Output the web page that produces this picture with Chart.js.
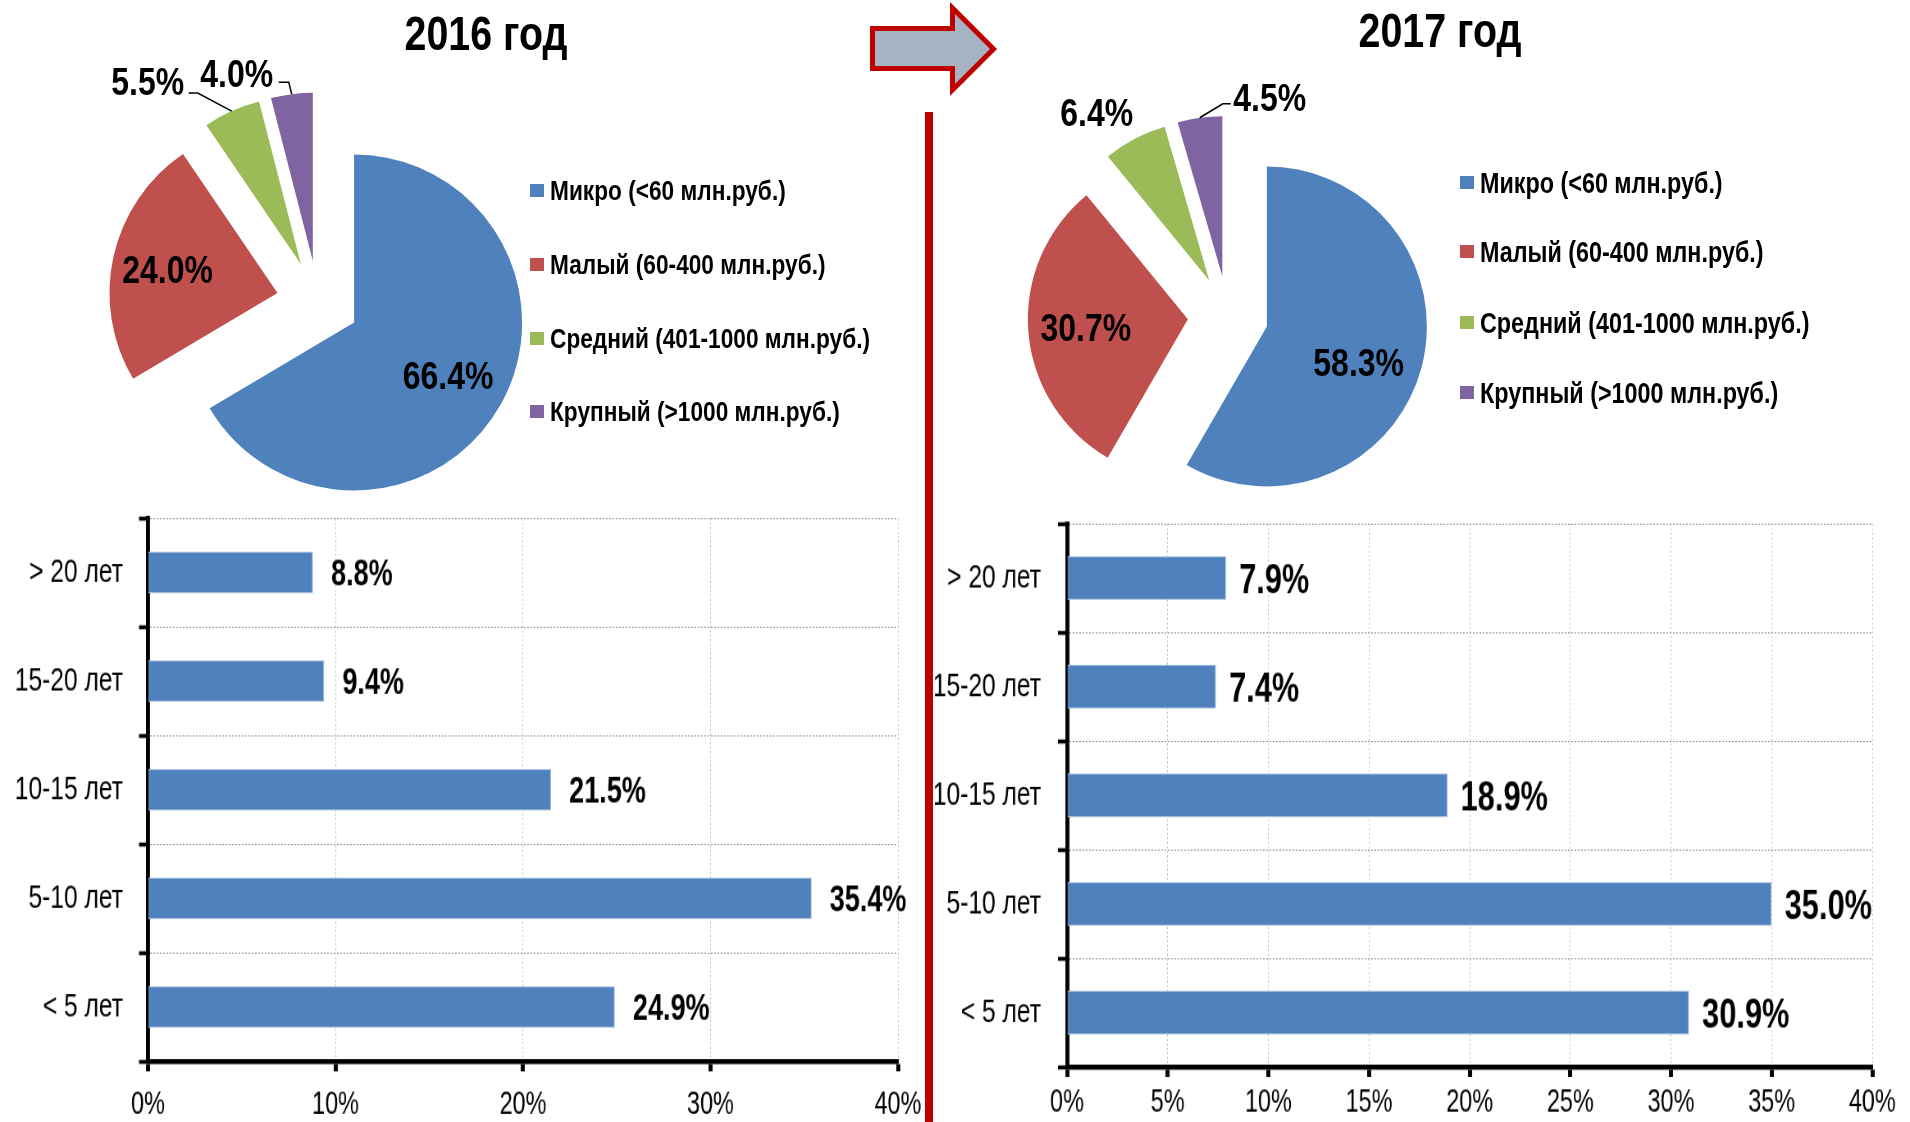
<!DOCTYPE html>
<html><head><meta charset="utf-8">
<script src="https://cdn.jsdelivr.net/npm/chart.js@4.4.1/dist/chart.umd.min.js"></script>
<style>
html,body{margin:0;padding:0;background:#fff;}
body{width:1910px;height:1122px;position:relative;overflow:hidden;font-family:"Liberation Sans",Arial,sans-serif;color:#000;}
canvas{position:absolute;}
canvas.bar{transform:scale(0.82,1.12);transform-origin:0 0;}
.title{position:absolute;font-weight:bold;font-size:48px;line-height:48px;text-align:center;width:400px;white-space:nowrap;transform:scaleX(0.82);transform-origin:50% 0;}
.leg{position:absolute;font-weight:bold;line-height:30px;height:30px;white-space:nowrap;z-index:5;}
.leg span{display:inline-block;transform-origin:0 0;}
.leg i{position:absolute;left:-20px;top:8px;width:14px;height:13px;}
#vline{position:absolute;left:925px;top:112px;width:8px;height:1010px;background:#C00000;}
#arrow{position:absolute;left:860px;top:0;}
</style></head>
<body>
<svg id="arrow" width="150" height="100"><polygon points="12.5,28.5 92.5,28.5 92.5,8 133.5,49 92.5,90 92.5,68.5 12.5,68.5" fill="#A5B3C2" stroke="#C00000" stroke-width="5" stroke-linejoin="miter"/></svg>
<div id="vline"></div>
<canvas id="pie2016" width="600" height="600" style="left:18px;top:2px"></canvas>
<canvas id="pie2017" width="600" height="600" style="left:928px;top:16px"></canvas>
<canvas id="bar2016" class="bar" width="1134" height="573" style="left:0px;top:480px"></canvas>
<canvas id="bar2017" class="bar" width="1189" height="573" style="left:935px;top:480px"></canvas>
<script>
// ---- data ----
const years = ['2016 год', '2017 год'];
const sizeLabels = ['Микро (<60 млн.руб.)', 'Малый (60-400 млн.руб.)', 'Средний (401-1000 млн.руб.)', 'Крупный (>1000 млн.руб.)'];
const share2016 = [66.4, 24.0, 5.5, 4.0];
const share2017 = [58.3, 30.7, 6.4, 4.5];
const ageLabels = ['> 20 лет', '15-20 лет', '10-15 лет', '5-10 лет', '< 5 лет'];
const age2016 = [8.8, 9.4, 21.5, 35.4, 24.9];
const age2017 = [7.9, 7.4, 18.9, 35.0, 30.9];
const axisMax = 40;
const tickStep2016 = 10;
const tickStep2017 = 5;

// ---- styles ----
const FONT = '"Liberation Sans", Arial, sans-serif';
const NARROW = 0.82;
const sliceColors = ['#4F81BD', '#C0504D', '#9BBB59', '#8064A2'];
const barColor = '#4F81BD';
Chart.defaults.font.family = FONT;
Chart.defaults.color = '#000';

// titles
[[years[0], 286, 10], [years[1], 1240, 7]].forEach(([t, x, y]) => {
  const d = document.createElement('div');
  d.className = 'title'; d.textContent = t;
  d.style.left = x + 'px'; d.style.top = y + 'px';
  document.body.appendChild(d);
});
// legends (HTML)
function legend(x, ys, size, sx) {
  sizeLabels.forEach((s, i) => {
    const d = document.createElement('div');
    d.className = 'leg';
    d.style.left = x + 'px'; d.style.top = (ys[i] - 15) + 'px';
    d.style.fontSize = size + 'px';
    const sq = document.createElement('i');
    sq.style.background = sliceColors[i];
    const sp = document.createElement('span');
    sp.style.transform = 'scaleX(' + sx + ')';
    sp.textContent = s;
    d.appendChild(sq); d.appendChild(sp);
    document.body.appendChild(d);
  });
}
legend(550, [191, 265, 339, 412], 28, 0.81);
legend(1480, [183, 252, 323, 393], 29, 0.805);

// compensate chart.js explode (offset) so slices keep their radius and angles
const explodeFix = {
  id: 'explodeFix',
  afterDatasetUpdate(chart, args) {
    const o = chart.options.plugins.explodeFix;
    const R = o.radius, t = o.offset / 4;
    args.meta.data.forEach(arc => {
      const fix = 1 - Math.sin(Math.min(Math.PI, arc.circumference));
      const ro = t * fix;
      arc.outerRadius = R - ro;
      const a = (ro / Math.PI) / R / 2;
      arc.startAngle -= a; arc.endAngle += a;
    });
  }
};
function narrowText(ctx, txt, x, y, size) {
  ctx.save();
  ctx.translate(x, y);
  ctx.scale(NARROW, 1);
  ctx.fillText(txt, 0, size * 0.358);
  ctx.restore();
}
const pieLabels = {
  id: 'pieLabels',
  afterDatasetsDraw(chart) {
    const o = chart.options.plugins.pieLabels;
    const R = o.radius, t = o.offset / 4;
    const ctx = chart.ctx;
    const meta = chart.getDatasetMeta(0);
    const vals = chart.data.datasets[0].data;
    const size = 39;
    ctx.save();
    ctx.font = 'bold ' + size + 'px ' + FONT;
    ctx.fillStyle = '#000';
    ctx.textAlign = 'center';
    ctx.textBaseline = 'alphabetic';
    meta.data.forEach((arc, i) => {
      const mid = (arc.startAngle + arc.endAngle) / 2;
      const c = Math.cos(mid), s = Math.sin(mid);
      const vx = arc.x + c * t, vy = arc.y + s * t;
      const p = o.place[i];
      const txt = vals[i].toFixed(1) + '%';
      if (p.k) {
        narrowText(ctx, txt, vx + c * R * p.k + (p.dx || 0), vy + s * R * p.k + (p.dy || 0), size);
      } else {
        const ax = vx + c * R, ay = vy + s * R;
        if (p.leader) {
          ctx.strokeStyle = '#000'; ctx.lineWidth = 1.5;
          ctx.beginPath(); ctx.moveTo(ax, ay);
          p.leader.forEach(q => ctx.lineTo(ax + q[0], ay + q[1]));
          ctx.stroke();
        }
        narrowText(ctx, txt, ax + p.d[0], ay + p.d[1], size);
      }
    });
    ctx.restore();
  }
};
function pie(id, values, R, offset, place) {
  new Chart(document.getElementById(id), {
    type: 'pie',
    data: { labels: sizeLabels, datasets: [{ data: values, backgroundColor: sliceColors, borderWidth: 0, offset: offset, hoverOffset: 0 }] },
    options: {
      responsive: false, animation: false, events: [], radius: R,
      layout: { padding: 0 },
      plugins: { legend: { display: false }, tooltip: { enabled: false },
        explodeFix: { radius: R, offset: offset },
        pieLabels: { radius: R, offset: offset, place: place } }
    },
    plugins: [explodeFix, pieLabels]
  });
}
pie('pie2016', share2016, 168, 166, [
  { k: 0.63, dx: 2 }, { k: 0.67 },
  { d: [-84, -30], leader: [[-34, -18], [-43, -18]] },
  { d: [-55, -21], leader: [[-3, -12], [-13, -12]] }
]);
pie('pie2017', share2017, 160, 161, [
  { k: 0.62, dx: -4, dy: 10 }, { k: 0.64 },
  { d: [-38, -27] },
  { d: [70, -21], leader: [[23, -14], [31, -14]] }
]);

const barLabels = {
  id: 'barLabels',
  afterDatasetsDraw(chart) {
    const o = chart.options.plugins.barLabels;
    const ctx = chart.ctx;
    const meta = chart.getDatasetMeta(0);
    const vals = chart.data.datasets[0].data;
    ctx.save();
    ctx.font = 'bold ' + o.size + 'px ' + FONT;
    ctx.fillStyle = '#000';
    ctx.textAlign = 'left';
    ctx.textBaseline = 'alphabetic';
    meta.data.forEach((bar, i) => {
      ctx.fillText(vals[i].toFixed(1) + '%', bar.x + o.gap, bar.y + o.size * 0.358);
    });
    ctx.restore();
  }
};
// geometry values are in canvas units (canvas is scaled by CSS 0.82 x 1.12)
function bars(id, values, step, g) {
  new Chart(document.getElementById(id), {
    type: 'bar',
    data: { labels: ageLabels, datasets: [{ data: values, backgroundColor: barColor, borderColor: '#A7C0DE', borderWidth: 1, barPercentage: g.barPct, categoryPercentage: 1 }] },
    options: {
      indexAxis: 'y', responsive: false, animation: false, events: [],
      layout: { padding: { top: g.padTop, right: g.padRight, left: 0, bottom: 0 } },
      plugins: { legend: { display: false }, tooltip: { enabled: false }, barLabels: { gap: g.gap, size: g.valSize } },
      scales: {
        x: {
          min: 0, max: axisMax,
          afterFit: s => { s.height = g.axisH; s.paddingLeft = 0; s.paddingRight = 0; },
          ticks: { stepSize: step, callback: v => v + '%', padding: g.xPad, font: { size: 28.6 }, color: '#000', maxRotation: 0 },
          grid: { color: '#C4C4C4', lineWidth: 1, drawTicks: true, tickLength: 9, tickWidth: 4.9, tickColor: '#000' },
          border: { display: true, color: '#000', width: 4.5, dash: [2, 2] }
        },
        y: {
          afterFit: s => { s.width = g.axisW; s.paddingTop = 0; s.paddingBottom = 0; },
          ticks: { padding: g.yPad, font: { size: 30 }, color: '#000' },
          grid: { offset: true, color: '#8A8A8A', lineWidth: 1, drawTicks: true, tickLength: 11, tickWidth: 3.6, tickColor: '#000' },
          border: { display: true, color: '#000', width: 4.9, dash: [2, 2] }
        }
      }
    },
    plugins: [barLabels]
  });
}
bars('bar2016', age2016, tickStep2016, { axisW: 180.5, axisH: 54, padTop: 34, padRight: 39, gap: 22, barPct: 0.38, yPad: 19.5, xPad: 13, valSize: 33 });
bars('bar2017', age2017, tickStep2017, { axisW: 161, axisH: 49, padTop: 39, padRight: 46, gap: 16, barPct: 0.40, yPad: 20.7, xPad: 6, valSize: 37.5 });
</script>
</body></html>
